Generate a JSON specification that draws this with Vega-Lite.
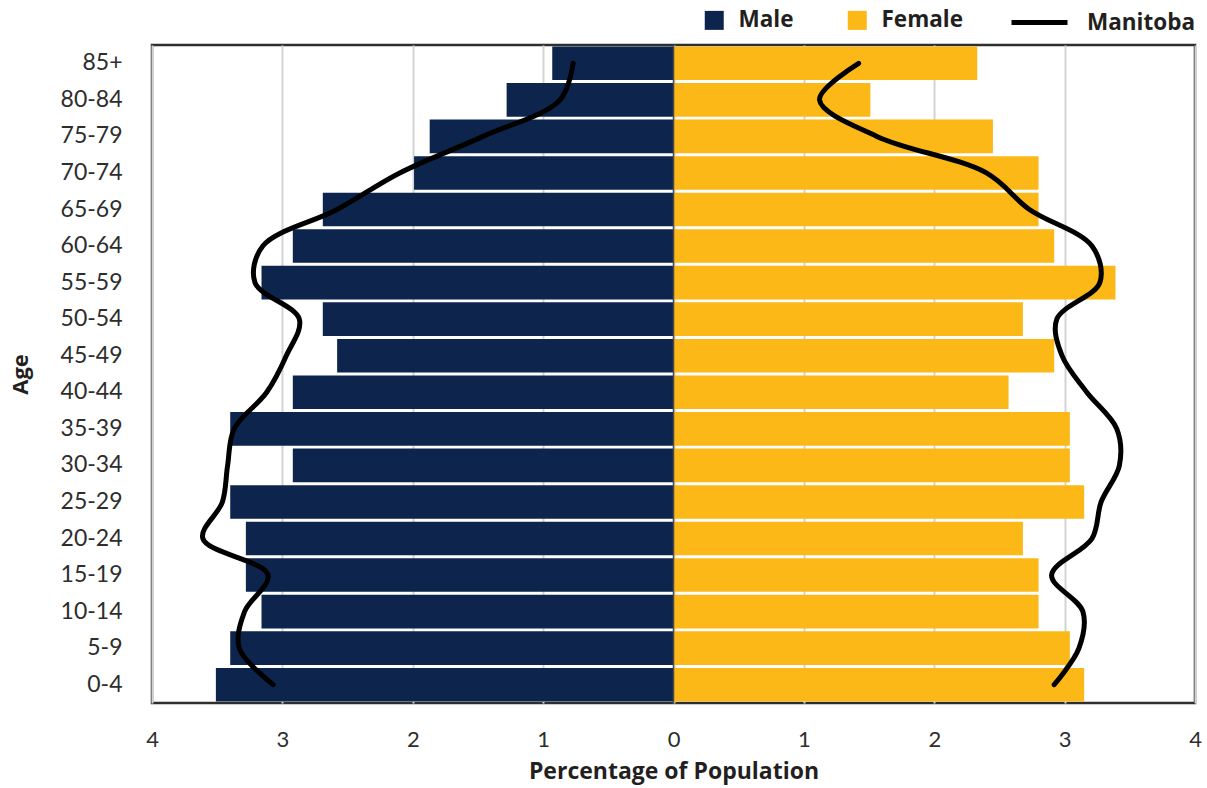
{
  "$schema": "https://vega.github.io/schema/vega-lite/v6.json",
  "width": 1043,
  "height": 658,
  "autosize": {"type": "none"},
  "padding": {"left": 152, "top": 45, "right": 12, "bottom": 85},
  "config": {
    "font": "Lato",
    "view": {"stroke": "#2e2e2e", "strokeWidth": 2.5}
  },
  "datasets": {
    "pyr": [
      {"Age": "85+", "Sex": "Male", "Percent": -0.93, "Manitoba": -0.77, "Series": "Manitoba"},
      {"Age": "80-84", "Sex": "Male", "Percent": -1.28, "Manitoba": -0.87, "Series": "Manitoba"},
      {"Age": "75-79", "Sex": "Male", "Percent": -1.87, "Manitoba": -1.46, "Series": "Manitoba"},
      {"Age": "70-74", "Sex": "Male", "Percent": -1.99, "Manitoba": -2.10, "Series": "Manitoba"},
      {"Age": "65-69", "Sex": "Male", "Percent": -2.69, "Manitoba": -2.58, "Series": "Manitoba"},
      {"Age": "60-64", "Sex": "Male", "Percent": -2.92, "Manitoba": -3.15, "Series": "Manitoba"},
      {"Age": "55-59", "Sex": "Male", "Percent": -3.16, "Manitoba": -3.21, "Series": "Manitoba"},
      {"Age": "50-54", "Sex": "Male", "Percent": -2.69, "Manitoba": -2.87, "Series": "Manitoba"},
      {"Age": "45-49", "Sex": "Male", "Percent": -2.58, "Manitoba": -2.97, "Series": "Manitoba"},
      {"Age": "40-44", "Sex": "Male", "Percent": -2.92, "Manitoba": -3.12, "Series": "Manitoba"},
      {"Age": "35-39", "Sex": "Male", "Percent": -3.40, "Manitoba": -3.37, "Series": "Manitoba"},
      {"Age": "30-34", "Sex": "Male", "Percent": -2.92, "Manitoba": -3.42, "Series": "Manitoba"},
      {"Age": "25-29", "Sex": "Male", "Percent": -3.40, "Manitoba": -3.46, "Series": "Manitoba"},
      {"Age": "20-24", "Sex": "Male", "Percent": -3.28, "Manitoba": -3.61, "Series": "Manitoba"},
      {"Age": "15-19", "Sex": "Male", "Percent": -3.28, "Manitoba": -3.11, "Series": "Manitoba"},
      {"Age": "10-14", "Sex": "Male", "Percent": -3.16, "Manitoba": -3.29, "Series": "Manitoba"},
      {"Age": "5-9", "Sex": "Male", "Percent": -3.40, "Manitoba": -3.33, "Series": "Manitoba"},
      {"Age": "0-4", "Sex": "Male", "Percent": -3.51, "Manitoba": -3.07, "Series": "Manitoba"},
      {"Age": "85+", "Sex": "Female", "Percent": 2.33, "Manitoba": 1.42, "Series": "Manitoba"},
      {"Age": "80-84", "Sex": "Female", "Percent": 1.51, "Manitoba": 1.12, "Series": "Manitoba"},
      {"Age": "75-79", "Sex": "Female", "Percent": 2.45, "Manitoba": 1.56, "Series": "Manitoba"},
      {"Age": "70-74", "Sex": "Female", "Percent": 2.80, "Manitoba": 2.40, "Series": "Manitoba"},
      {"Age": "65-69", "Sex": "Female", "Percent": 2.80, "Manitoba": 2.73, "Series": "Manitoba"},
      {"Age": "60-64", "Sex": "Female", "Percent": 2.92, "Manitoba": 3.21, "Series": "Manitoba"},
      {"Age": "55-59", "Sex": "Female", "Percent": 3.39, "Manitoba": 3.27, "Series": "Manitoba"},
      {"Age": "50-54", "Sex": "Female", "Percent": 2.68, "Manitoba": 2.94, "Series": "Manitoba"},
      {"Age": "45-49", "Sex": "Female", "Percent": 2.92, "Manitoba": 2.98, "Series": "Manitoba"},
      {"Age": "40-44", "Sex": "Female", "Percent": 2.57, "Manitoba": 3.17, "Series": "Manitoba"},
      {"Age": "35-39", "Sex": "Female", "Percent": 3.04, "Manitoba": 3.40, "Series": "Manitoba"},
      {"Age": "30-34", "Sex": "Female", "Percent": 3.04, "Manitoba": 3.42, "Series": "Manitoba"},
      {"Age": "25-29", "Sex": "Female", "Percent": 3.15, "Manitoba": 3.28, "Series": "Manitoba"},
      {"Age": "20-24", "Sex": "Female", "Percent": 2.68, "Manitoba": 3.21, "Series": "Manitoba"},
      {"Age": "15-19", "Sex": "Female", "Percent": 2.80, "Manitoba": 2.90, "Series": "Manitoba"},
      {"Age": "10-14", "Sex": "Female", "Percent": 2.80, "Manitoba": 3.14, "Series": "Manitoba"},
      {"Age": "5-9", "Sex": "Female", "Percent": 3.04, "Manitoba": 3.11, "Series": "Manitoba"},
      {"Age": "0-4", "Sex": "Female", "Percent": 3.15, "Manitoba": 2.92, "Series": "Manitoba"}
    ]
  },
  "data": {"name": "pyr"},
  "layer": [
    {
      "mark": {"type": "bar"},
      "encoding": {
        "y": {
          "field": "Age",
          "type": "nominal",
          "sort": ["85+", "80-84", "75-79", "70-74", "65-69", "60-64", "55-59", "50-54", "45-49", "40-44", "35-39", "30-34", "25-29", "20-24", "15-19", "10-14", "5-9", "0-4"],
          "scale": {"paddingInner": 0.08, "paddingOuter": 0.04},
          "axis": {
            "title": "Age",
            "titleFont": "Open Sans",
            "titleFontSize": 22,
            "titleFontWeight": "bold",
            "titleColor": "#231f20",
            "labelFontSize": 23,
            "labelColor": "#2d2d2d",
            "ticks": false,
            "domain": false,
            "labelPadding": 30,
            "titlePadding": 28
          }
        },
        "x": {
          "field": "Percent",
          "type": "quantitative",
          "scale": {"domain": [-4, 4], "nice": false},
          "axis": {
            "values": [-4, -3, -2, -1, 0, 1, 2, 3, 4],
            "labelExpr": "abs(datum.value)",
            "labelFlush": false,
            "title": "Percentage of Population",
            "titleFont": "Open Sans",
            "grid": true,
            "gridColor": "#d3d3d3",
            "gridWidth": 2,
            "ticks": false,
            "domain": false,
            "labelFontSize": 22,
            "labelColor": "#2d2d2d",
            "labelPadding": 26,
            "titleFontSize": 23,
            "titleFontWeight": "bold",
            "titleColor": "#231f20",
            "titlePadding": 10
          }
        },
        "color": {
          "field": "Sex",
          "type": "nominal",
          "scale": {"domain": ["Male", "Female"], "range": ["#0d254c", "#fbb817"]},
          "legend": {
            "orient": "none",
            "legendX": 551,
            "legendY": -36,
            "direction": "horizontal",
            "title": null,
            "symbolType": "square",
            "symbolSize": 361,
            "symbolStrokeWidth": 0,
            "labelFont": "Open Sans",
            "labelFontSize": 22.5,
            "labelFontWeight": "bold",
            "labelColor": "#231f20",
            "labelOffset": 13,
            "columnPadding": 52,
            "padding": 0
          }
        }
      }
    },
    {
      "data": {"values": [{}]},
      "mark": {"type": "rule", "color": "#4a4a4a", "strokeWidth": 1.5},
      "encoding": {"x": {"datum": 0}}
    },
    {
      "mark": {"type": "line", "interpolate": "catmull-rom", "strokeWidth": 5, "strokeCap": "round"},
      "encoding": {
        "y": {"field": "Age", "type": "nominal", "sort": ["85+", "80-84", "75-79", "70-74", "65-69", "60-64", "55-59", "50-54", "45-49", "40-44", "35-39", "30-34", "25-29", "20-24", "15-19", "10-14", "5-9", "0-4"]},
        "x": {"field": "Manitoba", "type": "quantitative"},
        "detail": {"field": "Sex"},
        "order": {"value": null},
        "stroke": {
          "field": "Series",
          "type": "nominal",
          "scale": {"range": ["#000000"]},
          "legend": {
            "orient": "none",
            "legendX": 857,
            "legendY": -53,
            "title": null,
            "symbolType": "stroke",
            "symbolSize": 3136,
            "symbolStrokeWidth": 5,
            "symbolStrokeColor": "#000000",
            "labelFont": "Open Sans",
            "labelFontSize": 22.5,
            "labelFontWeight": "bold",
            "labelColor": "#231f20",
            "labelOffset": 17,
            "padding": 0
          }
        }
      }
    }
  ]
}
